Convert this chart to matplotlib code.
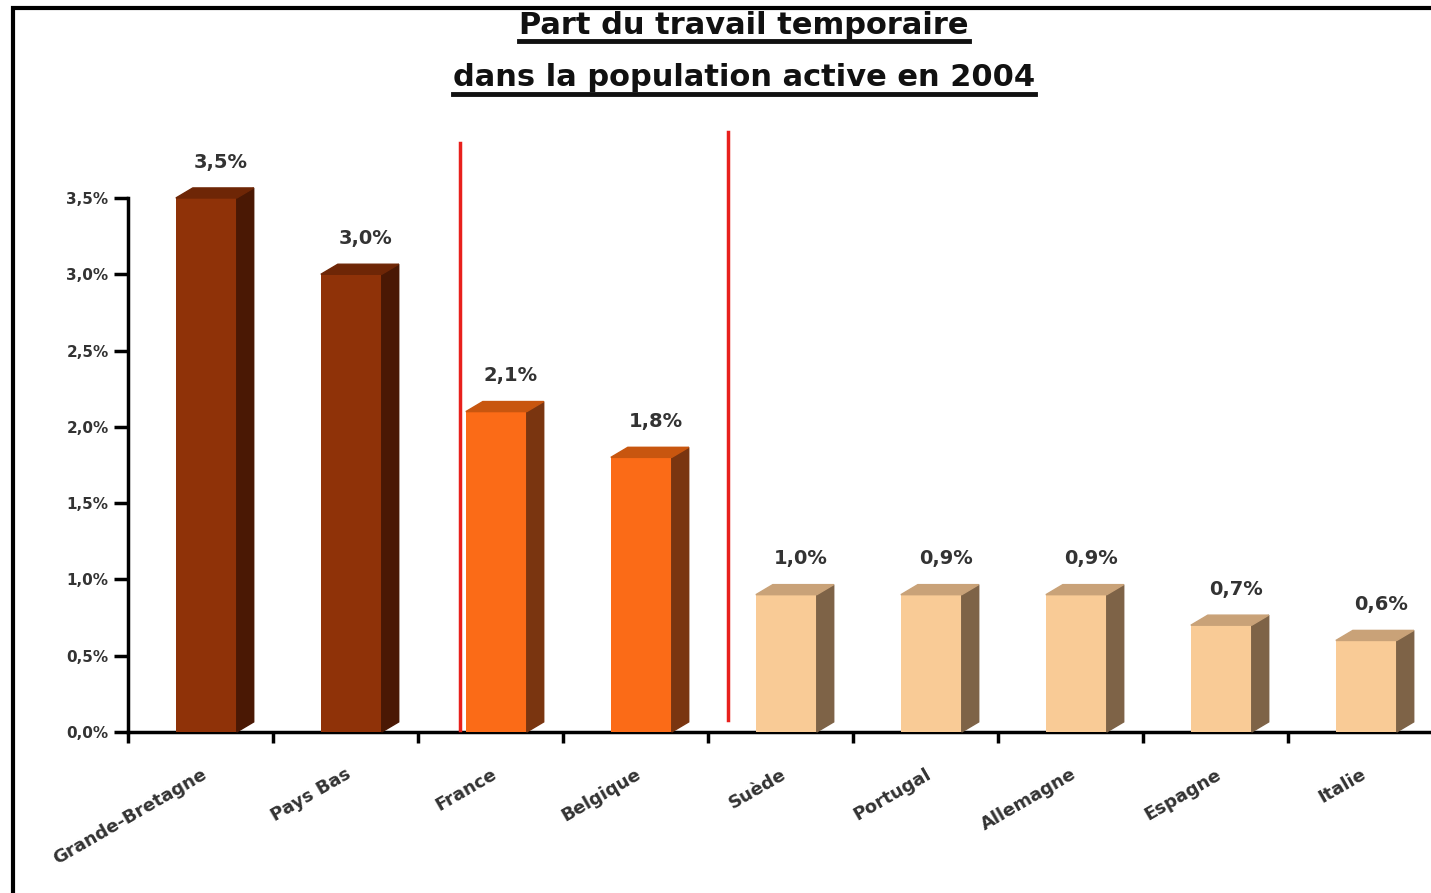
import matplotlib.pyplot as plt
from matplotlib.patches import Polygon, Rectangle
from matplotlib.lines import Line2D

# Part du travail temporaire dans la population active en 2004
pays = ['Grande-Bretagne', 'Pays Bas', 'France', 'Belgique', 'Suède',
        'Portugal', 'Allemagne', 'Espagne', 'Italie']
part = [3.5, 3.0, 2.1, 1.8, 0.9, 0.9, 0.9, 0.7, 0.6]
etiquettes = ['3,5%', '3,0%', '2,1%', '1,8%', '1,0%', '0,9%', '0,9%', '0,7%', '0,6%']
groupe = [0, 0, 1, 1, 2, 2, 2, 2, 2]

# colours per group: front, side, top
couleurs = [('#8f3208', '#4a1804', '#6e2606'),
            ('#fb6b17', '#7a3510', '#c8560f'),
            ('#f9cb96', '#7e6347', '#c9a278')]

yticks = [0, 0.5, 1.0, 1.5, 2.0, 2.5, 3.0, 3.5]

fig = plt.figure(figsize=(14.31, 8.93), dpi=100)
ax = fig.add_axes([128 / 1431, 1 - 732 / 893, 1305 / 1431, 534 / 893])

x0 = 0.33      # left offset of the front face inside a category
w = 0.42       # front face width
dx, dy = 0.117, 0.066   # depth of the 3d effect

for i, v in enumerate(part):
    front, side, top = couleurs[groupe[i]]
    ax.bar(i + x0, v, width=w, align='edge', color=front, zorder=3, clip_on=False)
    xr = i + x0 + w
    ax.add_patch(Polygon([(xr, 0), (xr + dx, dy), (xr + dx, v + dy), (xr, v)],
                         closed=True, color=side, zorder=3, clip_on=False))
    ax.add_patch(Polygon([(i + x0, v), (xr, v), (xr + dx, v + dy), (i + x0 + dx, v + dy)],
                         closed=True, color=top, zorder=3, clip_on=False))
    ax.annotate(etiquettes[i], (i + x0 + w / 2 + 0.1, v), xytext=(0, 19),
                textcoords='offset points', ha='center', va='bottom',
                fontsize=14, fontweight='bold', color='#333333', clip_on=False)

# red separators
ax.plot([2.29, 2.29], [0.01, 3.86], color='#e8201c', lw=2.5, clip_on=False, zorder=4)
ax.plot([4.14, 4.14], [0.08, 3.93], color='#e8201c', lw=2.5, clip_on=False, zorder=4)

ax.set_xlim(0, 9)
ax.set_ylim(0, 3.5)
ax.set_yticks(yticks)
ax.set_yticklabels([('%.1f%%' % t).replace('.', ',') for t in yticks],
                   fontsize=11, fontweight='bold', color='#333333')
ax.set_xticks(range(10))
ax.set_xticklabels([])
ax.set_xticks([i + 0.5 for i in range(len(pays))], minor=True)
ax.set_xticklabels(pays, minor=True, rotation=30, ha='right', va='top',
                   rotation_mode='anchor', fontsize=13, fontweight='bold', color='#333333')
ax.tick_params(axis='x', which='minor', length=0, pad=24)
ax.tick_params(axis='x', which='major', length=8, width=2.5, direction='out')
ax.tick_params(axis='y', length=10, width=2.5, direction='out', pad=4)
for s in ['top', 'right']:
    ax.spines[s].set_visible(False)
for s in ['left', 'bottom']:
    ax.spines[s].set_linewidth(2.5)

# underlined title
titres = [('Part du travail temporaire', 25), ('dans la population active en 2004', 78)]
fig.canvas.draw()
r = fig.canvas.get_renderer()
for txt, yp in titres:
    t = fig.text(0.52, 1 - yp / 893, txt, ha='center', va='center',
                 fontsize=22, fontweight='bold', color='#111111')
    bb = t.get_window_extent(renderer=r)
    yl = (bb.y0 - 1) / fig.bbox.height
    fig.add_artist(Line2D([bb.x0 / fig.bbox.width, bb.x1 / fig.bbox.width], [yl, yl],
                          transform=fig.transFigure, color='#111111', lw=3.5))

# outer frame
fig.add_artist(Rectangle((13 / 1431, -0.05), 1.1, 1 - 8 / 893 + 0.05,
                         transform=fig.transFigure, fill=False, lw=3, ec='black'))

fig.savefig('out.png', dpi=100)
